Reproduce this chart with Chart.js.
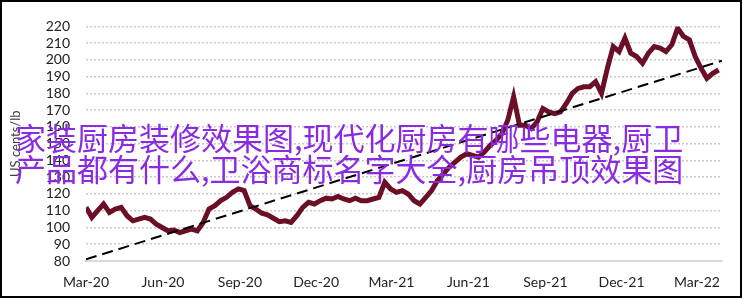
<!DOCTYPE html>
<html>
<head>
<meta charset="utf-8">
<script src="https://cdn.jsdelivr.net/npm/chart.js@4"></script>
<style>
  html, body { margin: 0; padding: 0; background: #fff; }
  #frame {
    position: absolute; left: 0; top: 0;
    width: 738px; height: 294px;
    border: 2px solid #000;
  }
  #overlay {
    position: absolute; left: 15px; top: 121px;
    font-family: "Noto Sans CJK SC", sans-serif;
    font-size: 31px; line-height: 31px;
    color: #8a2be2; white-space: nowrap;
    z-index: 5;
  }
</style>
</head>
<body>
<div id="frame">
  <canvas id="priceChart" width="738" height="294"></canvas>
</div>
<div id="overlay">家装厨房装修效果图,现代化厨房有哪些电器,厨卫<br>产品都有什么,卫浴商标名字大全,厨房吊顶效果图</div>

<script>
// weekly prices, US cents/lb, first week = start of Mar-20
const prices = [
  112, 106, 110, 114, 109, 111, 112, 107, 104, 105,
  106, 105, 102, 100, 98, 98.5, 97, 98, 99, 98,
  103, 111, 113, 116, 118, 121, 123, 122, 113, 111,
  108.5, 107.5, 105.5, 103.5, 104, 103, 107, 112, 115, 114,
  116, 117.5, 117, 118.5, 117, 116, 117.5, 116, 116, 117,
  118, 127, 123, 121, 122, 120, 116, 114, 118, 122,
  128, 132, 136, 139, 142, 144, 143, 142, 145, 149,
  152, 156, 164, 178, 161, 161, 159, 163, 171, 169,
  168, 169, 174, 180, 183, 184, 184, 187, 180, 195,
  208, 205, 213, 204, 202, 198, 204, 208, 207, 205,
  209, 219, 214, 212, 202, 195, 189, 192, 194
];
const weekStep = 7; // days between points

// linear trend drawn across the whole period
const trendDays = [0, 760];
const trendValues = [81, 199.5];

const tickDays = [0, 92, 184, 275, 365, 457, 549, 640, 730];
const tickLabels = ['Mar-20', 'Jun-20', 'Sep-20', 'Dec-20', 'Mar-21', 'Jun-21', 'Sep-21', 'Dec-21', 'Mar-22'];

const yMin = 80, yMax = 220, yStep = 10;

const ctx = document.getElementById('priceChart').getContext('2d');
const priceChart = new Chart(ctx, {
  type: 'line',
  data: {
    datasets: [{
      label: 'Price',
      data: prices.map((v, i) => ({ x: i * weekStep, y: v })),
      borderColor: '#6b0f26',
      borderWidth: 5,
      pointRadius: 0,
      tension: 0,
      order: 2
    }, {
      label: 'Trend',
      data: trendDays.map((d, i) => ({ x: d, y: trendValues[i] })),
      borderColor: '#000',
      borderWidth: 2,
      borderDash: [11, 6],
      pointRadius: 0,
      order: 1
    }]
  },
  options: {
    responsive: false,
    animation: false,
    layout: { padding: { top: 15, right: 18, left: 0, bottom: 0 } },
    plugins: { legend: { display: false }, tooltip: { enabled: false } },
    scales: {
      x: {
        type: 'linear',
        min: 0,
        max: 760,
        afterBuildTicks: (scale) => { scale.ticks = tickDays.map(v => ({ value: v })); },
        afterFit: (scale) => { scale.height = 35; },
        ticks: {
          callback: (value) => tickLabels[tickDays.indexOf(value)],
          color: '#222',
          font: { family: 'Lato', size: 14 },
          padding: 13,
          maxRotation: 0,
          autoSkip: false
        },
        grid: { display: false, drawTicks: false },
        border: { display: true, color: '#d9d9d9', width: 2 }
      },
      y: {
        min: yMin,
        max: yMax,
        afterFit: (scale) => { scale.width = 84; },
        ticks: {
          stepSize: yStep,
          autoSkip: false,
          color: '#222',
          font: { family: 'Lato', size: 14 },
          padding: 16
        },
        grid: { color: '#c8c8c8', lineWidth: 1.5, drawTicks: false },
        border: { display: false, dash: [2, 2] },
        title: {
          display: true,
          text: 'US cents/lb',
          color: '#404040',
          font: { family: 'Lato', size: 13 },
          padding: { top: 6, bottom: 0 }
        }
      }
    }
  }
});
</script>
</body>
</html>
